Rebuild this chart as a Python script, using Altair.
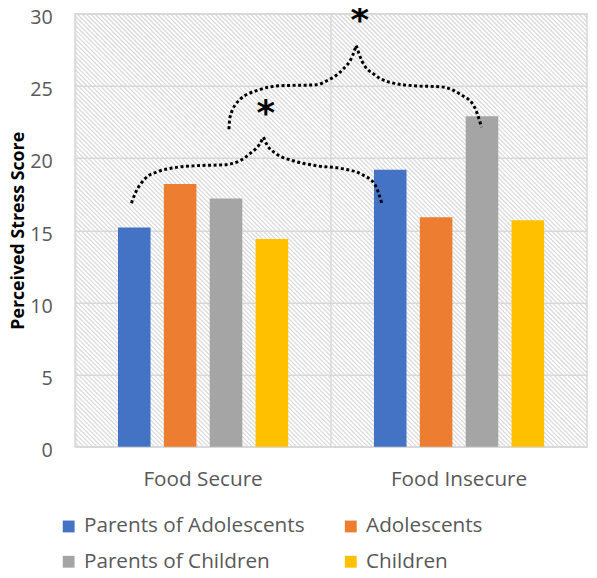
import altair as alt
import pandas as pd

# ---- data ----
groups = ["Food Secure", "Food Insecure"]
series = ["Parents of Adolescents", "Adolescents", "Parents of Children", "Children"]
food_secure = [15.2, 18.2, 17.2, 14.4]
food_insecure = [19.2, 15.9, 22.9, 15.7]
colors = ["#4472C4", "#ED7D31", "#A5A5A5", "#FFC000"]
y_ticks = [0, 5, 10, 15, 20, 25, 30]

# brace annotation anchors (x in group units 0..2, y in stress score)
brace1_left_x = [0.220, 0.235, 0.274, 0.324, 0.389, 0.478, 0.582, 0.644, 0.682, 0.721, 0.736]
brace1_left_y = [16.88, 17.56, 18.59, 19.07, 19.34, 19.48, 19.54, 19.82, 20.30, 20.98, 21.46]
brace1_right_x = [0.736, 0.748, 0.786, 0.852, 0.940, 1.044, 1.121, 1.171, 1.198]
brace1_right_y = [21.46, 20.98, 20.30, 19.82, 19.48, 19.27, 18.86, 18.18, 16.88]
brace2_left_x = [0.601, 0.605, 0.644, 0.709, 0.798, 0.940, 0.990, 1.044, 1.083, 1.098]
brace2_left_y = [22.00, 22.83, 24.06, 24.67, 25.01, 25.08, 25.42, 26.11, 27.06, 27.81]
brace2_right_x = [1.098, 1.121, 1.171, 1.237, 1.326, 1.430, 1.507, 1.557, 1.588]
brace2_right_y = [27.81, 26.72, 25.76, 25.22, 25.01, 24.94, 24.40, 23.65, 22.14]
star_x = [0.745, 1.112]
star_y = [23.45, 29.9]

# ---- tables ----
rows = []
for g, vals in zip(groups, [food_secure, food_insecure]):
    for s, v in zip(series, vals):
        rows.append({"group": g, "series": s, "value": v})
bars_df = pd.DataFrame(rows)

brace_rows = []
for seg, (xs, ys) in enumerate([(brace1_left_x, brace1_left_y), (brace1_right_x, brace1_right_y),
                                (brace2_left_x, brace2_left_y), (brace2_right_x, brace2_right_y)]):
    for i, (x, y) in enumerate(zip(xs, ys)):
        brace_rows.append({"seg": seg, "idx": i, "x": x, "y": y})
brace_df = pd.DataFrame(brace_rows)
star_df = pd.DataFrame({"x": star_x, "y": star_y})

W, H = 519, 439
FONT = "Open Sans"
GRID = "#d9d9d9"

yscale = alt.Scale(domain=[0, 30], nice=False)
xq = alt.Scale(domain=[0, 2], nice=False)

# ---- hatched background ----
D = H * 2 / W
S = 4.5 * 2 / W
n_lines = int((2 + D) / S) + 2
hatch = alt.Chart(alt.sequence(0, n_lines, as_="i")).transform_calculate(
    hx0=f"-{D} + datum.i * {S}",
    hx1=f"-{D} + datum.i * {S} + {D}",
    hy0="30",
    hy1="0",
).mark_rule(stroke="#d8d8d8", strokeWidth=1.2, clip=True).encode(
    x=alt.X("hx0:Q", scale=xq, axis=None),
    x2="hx1:Q",
    y=alt.Y("hy0:Q", scale=yscale, axis=None),
    y2="hy1:Q",
)

bars = alt.Chart(bars_df).mark_bar().encode(
    x=alt.X("group:N", sort=groups,
            scale=alt.Scale(paddingInner=0, paddingOuter=0),
            axis=alt.Axis(title=None, labelAngle=0, grid=True, bandPosition=0,
                          gridColor=GRID, gridWidth=1.5, domain=False, ticks=False, tickSize=0,
                          labelPadding=22, labelFont=FONT, labelFontSize=21,
                          labelColor="#595959")),
    xOffset=alt.XOffset("series:N", sort=series,
                        scale=alt.Scale(paddingInner=0.29, paddingOuter=0.935)),
    y=alt.Y("value:Q", scale=yscale,
            axis=alt.Axis(values=y_ticks, grid=True, gridColor=GRID, gridWidth=1.5,
                          domain=False, ticks=False, tickSize=0, labelPadding=23,
                          labelFont=FONT, labelFontSize=20, labelColor="#595959",
                          labelOffset=4,
                          title="Perceived Stress Score", titleFont=FONT,
                          titleFontSize=18, titleFontWeight="bold", titleColor="#000000",
                          titleAngle=270, titleX=-57, titleY=H / 2, titleBaseline="middle")),
    color=alt.Color("series:N", sort=series,
                    scale=alt.Scale(domain=series, range=colors),
                    legend=alt.Legend(title=None, orient="none", legendX=-17, legendY=509,
                                      direction="horizontal", columns=2,
                                      symbolType="square", symbolSize=144,
                                      symbolStrokeWidth=0, symbolOpacity=1,
                                      labelFont=FONT, labelFontSize=21,
                                      labelColor="#595959", labelOffset=5,
                                      columnPadding=36, rowPadding=14, padding=0,
                                      labelLimit=400)),
)

braces = alt.Chart(brace_df).mark_line(
    color="black", strokeWidth=3, strokeDash=[3, 2.6], interpolate="monotone"
).encode(
    x=alt.X("x:Q", scale=xq, axis=None),
    y=alt.Y("y:Q", scale=yscale, axis=None),
    detail="seg:N",
    order="idx:Q",
)

stars = alt.Chart(star_df).mark_text(
    text="*", font="DejaVu Sans", fontSize=36, fontWeight="bold",
    color="black", baseline="middle", dy=6
).encode(
    x=alt.X("x:Q", scale=xq, axis=None),
    y=alt.Y("y:Q", scale=yscale, axis=None),
)

chart = alt.layer(hatch, bars, braces, stars).resolve_scale(
    x="independent", y="independent"
).properties(
    width=W, height=H,
    autosize=alt.AutoSizeParams(type="none"),
    padding={"left": 68, "top": 2, "right": 2, "bottom": 121},
).configure_view(stroke=GRID, strokeWidth=1.5)

chart.save("out.html", embed_options={"renderer": "svg", "actions": False})
